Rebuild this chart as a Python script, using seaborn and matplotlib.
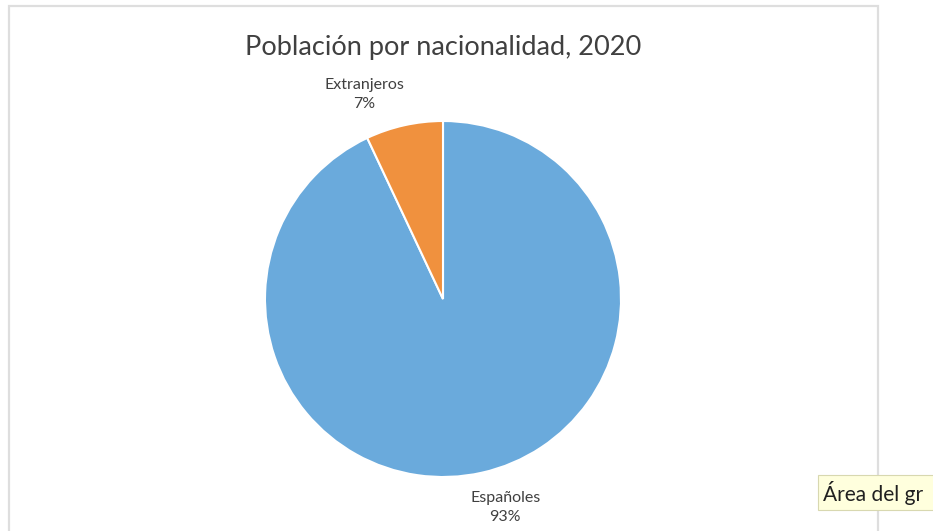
import numpy as np
import pandas as pd
import matplotlib.pyplot as plt
import matplotlib.patches as mpatches
import seaborn as sns

categories = ["Españoles", "Extranjeros"]
shares = [93, 7]
pct_labels = ["93%", "7%"]
colors = ["#6AAADC", "#F0913E"]

sns.set_theme(style="white")
plt.rcParams['font.family'] = ['Lato', 'DejaVu Sans']

W, H = 933, 531
fig = plt.figure(figsize=(W / 100, H / 100), dpi=100)
fig.patch.set_facecolor("white")

# chart area frame (Excel-like)
frame = mpatches.Rectangle((9 / W, -0.05), (878 - 9) / W, 1.05 - 6 / H,
                           transform=fig.transFigure, fill=False,
                           edgecolor="#dedede", linewidth=1.6)
fig.patches.append(frame)

# pie geometry: radius ~178 px, centre at (443, 299) from top
r = 178
cx, cy = 443, H - 299
xr, yr = 1.4, 1.3
ax = fig.add_axes([(cx - xr * r) / W, (cy - yr * r) / H,
                   2 * xr * r / W, 2 * yr * r / H])

df = pd.DataFrame({"cat": categories, "share": shares, "pct": pct_labels})
labels = [f"{c}\n{p}" for c, p in zip(df["cat"], df["pct"])]

wedges, texts = ax.pie(df["share"], labels=labels, colors=colors,
                       startangle=90, counterclock=False,
                       labeldistance=1.2,
                       wedgeprops=dict(edgecolor="white", linewidth=1.5),
                       textprops=dict(ha="center", va="center",
                                      fontsize=11.5, color="#404040",
                                      linespacing=1.45))
# Excel "best fit" placement of the data labels
label_pos = [(0.35, -1.17), (-0.44, 1.15)]
for t, p in zip(texts, label_pos):
    t.set_position(p)

ax.set_xlim(-xr, xr)
ax.set_ylim(-yr, yr)
ax.set_aspect("equal")
ax.axis("off")

fig.text(cx / W, 1 - 47 / H, "Población por nacionalidad, 2020",
         ha="center", va="center", fontsize=19.5, color="#404040")

# tooltip fragment at the bottom right (cut by the screenshot edge)
tip = mpatches.Rectangle((818 / W, 1 - 510 / H), (W - 818 + 5) / W, 35 / H,
                         transform=fig.transFigure, facecolor="#FFFFDD",
                         edgecolor="#d8d8b0", linewidth=0.8)
fig.patches.append(tip)
fig.text(823 / W, 1 - 493 / H, "Área del gr", ha="left", va="center",
         fontsize=15, color="#202020")

plt.savefig("out.png", dpi=100)
